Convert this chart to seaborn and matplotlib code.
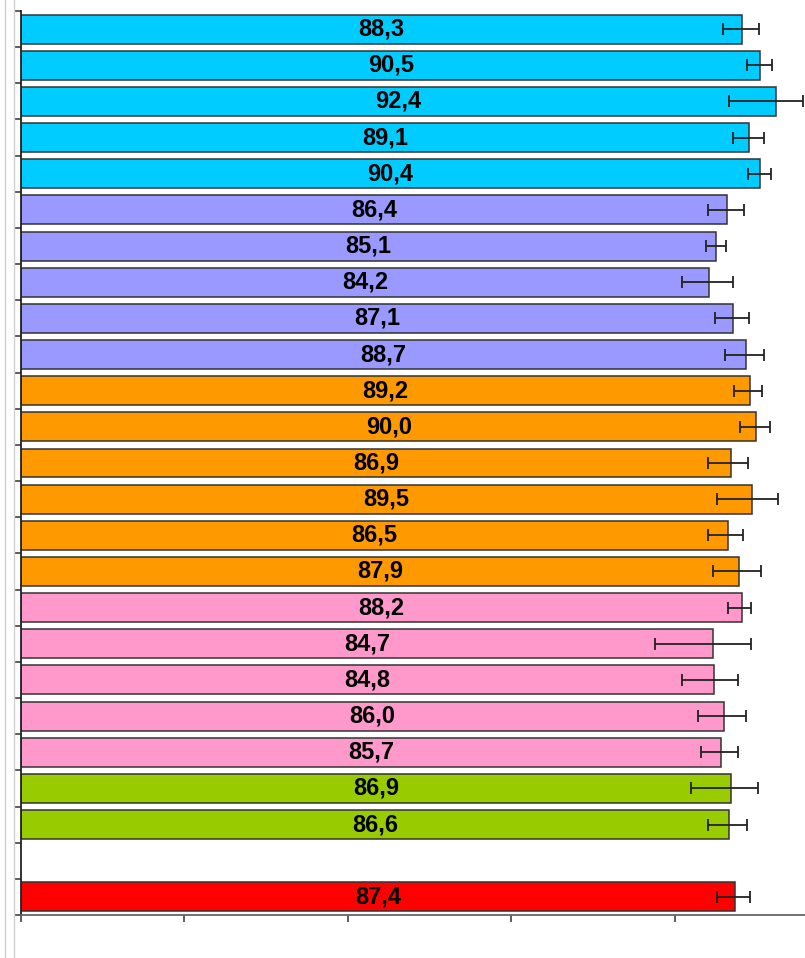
import matplotlib
matplotlib.use("Agg")
import matplotlib.pyplot as plt
from matplotlib.lines import Line2D
import numpy as np
import pandas as pd
import seaborn as sns

# one row per slot, top to bottom; the empty slot has no value
labels = [f"s{i}" for i in range(1, 26)]
values = [88.3, 90.5, 92.4, 89.1, 90.4,
          86.4, 85.1, 84.2, 87.1, 88.7,
          89.2, 90.0, 86.9, 89.5, 86.5, 87.9,
          88.2, 84.7, 84.8, 86.0, 85.7,
          86.9, 86.6,
          np.nan,
          87.4]
err_low = [2.4, 1.6, 5.8, 1.9, 1.45,
           2.35, 1.25, 3.3, 2.2, 2.5,
           1.9, 2.05, 2.8, 4.25, 2.4, 3.25,
           1.7, 7.05, 3.9, 3.1, 2.5,
           4.85, 2.5,
           np.nan,
           2.2]
err_high = [2.0, 1.4, 3.3, 1.9, 1.45,
            2.05, 1.25, 3.0, 2.05, 2.3,
            1.45, 1.7, 2.05, 3.1, 1.9, 2.7,
            1.1, 4.7, 3.0, 2.7, 2.1,
            3.25, 2.3,
            np.nan,
            1.85]
groups = (["cyan"] * 5 + ["purple"] * 5 + ["orange"] * 6 + ["pink"] * 5
          + ["green"] * 2 + ["none"] + ["red"])
group_colors = {"cyan": "#00CCFF", "purple": "#9999FF", "orange": "#FF9900",
                "pink": "#FF99CC", "green": "#99CC00", "none": "#FFFFFF",
                "red": "#FF0000"}

df = pd.DataFrame({"label": labels, "value": values, "group": groups,
                   "lo": err_low, "hi": err_high})

sns.set_style("white")
plt.rcParams['font.family'] = ['Liberation Sans', 'DejaVu Sans']

W, H = 805, 958
fig = plt.figure(figsize=(W / 100, H / 100), dpi=100)
ax = fig.add_axes([21 / W, 43 / H, 784 / W, 904 / H])

sns.barplot(data=df, x="value", y="label", hue="group", palette=group_colors,
            order=labels, orient="h", width=0.8, saturation=1,
            edgecolor="#333333", linewidth=1.1, legend=False, errorbar=None,
            ax=ax)

ypos = np.arange(len(labels))
mask = df["value"].notna().values
ax.errorbar(df["value"][mask], ypos[mask],
            xerr=[df["lo"][mask], df["hi"][mask]],
            fmt="none", ecolor="#222222", elinewidth=1.3, capsize=4.5,
            capthick=1.3, zorder=5)

for y, v in zip(ypos, values):
    if np.isnan(v):
        continue
    ax.text(v / 2, y + 0.0, f"{v:.1f}".replace(".", ","), ha="center",
            va="center", fontsize=17, fontweight="bold", color="black")

ax.set_xlim(0, 784 / 8.17)
ax.set_ylim(len(labels) - 0.5, -0.5)
ax.set_xticks([0, 20, 40, 60, 80])
ax.set_yticks(np.arange(-0.5, len(labels), 1))
ax.set_xticklabels([])
ax.set_yticklabels([])
ax.set_xlabel("")
ax.set_ylabel("")
ax.tick_params(axis="both", direction="out", length=5, width=1.1,
               color="#333333", left=True, bottom=True)
sns.despine(ax=ax, top=True, right=True)
ax.spines["left"].set_color("#222222")
ax.spines["left"].set_linewidth(1.3)
ax.spines["bottom"].set_color("#666666")
ax.spines["bottom"].set_linewidth(1.3)

# window border lines at the left edge of the screenshot
for xp in (4.5, 13.5):
    fig.add_artist(Line2D([xp / W, xp / W], [0, 1], color="#d0d0d0", lw=1))

fig.savefig("out.png", dpi=100)
